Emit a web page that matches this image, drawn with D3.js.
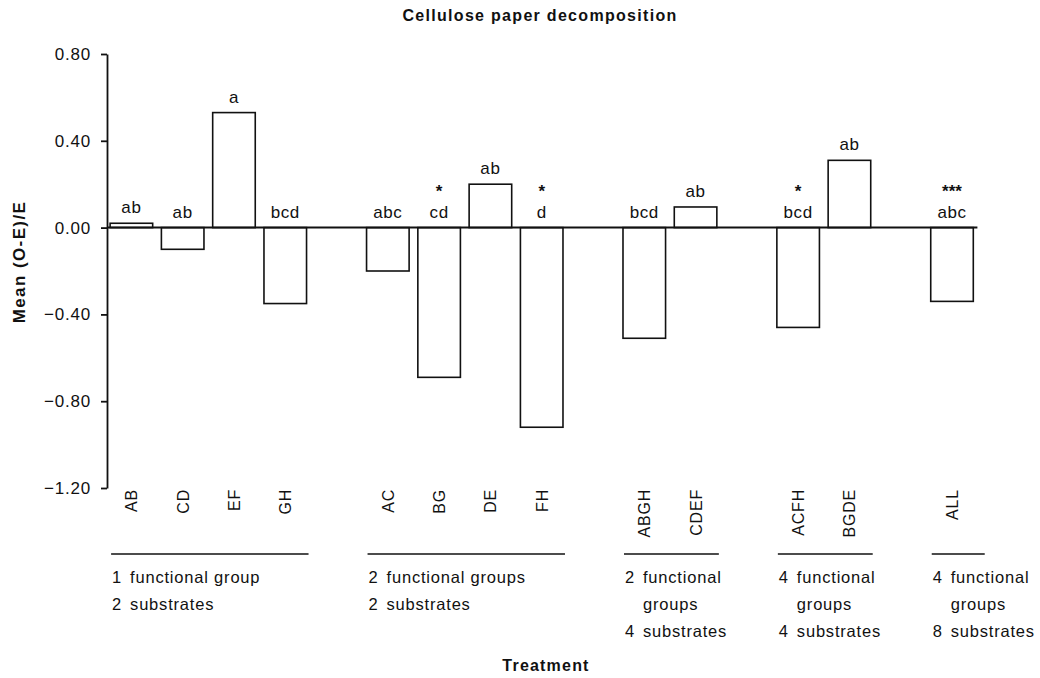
<!DOCTYPE html>
<html>
<head>
<meta charset="utf-8">
<script src="https://cdn.jsdelivr.net/npm/d3@7"></script>
<style>
  body { margin: 0; background: #fff; }
  text { font-family: "Liberation Sans", Arial, sans-serif; fill: #111; }
  .axis path, .axis line { stroke: #111; stroke-width: 1.8; }
  .axis text { font-size: 17px; letter-spacing: 0.8px; }
</style>
</head>
<body>
<div id="chart"></div>
<script>
// treatments and their mean (O-E)/E
var treatments = ["AB", "CD", "EF", "GH", "AC", "BG", "DE", "FH", "ABGH", "CDEF", "ACFH", "BGDE", "ALL"];
var meanValues = [0.02, -0.10, 0.53, -0.35, -0.20, -0.69, 0.20, -0.92, -0.51, 0.095, -0.46, 0.31, -0.34];
var letterGroups = ["ab", "ab", "a", "bcd", "abc", "cd", "ab", "d", "bcd", "ab", "bcd", "ab", "abc"];
var significance = ["", "", "", "", "", "*", "", "*", "", "", "*", "", "***"];

var groupTreatments = [
  ["AB", "CD", "EF", "GH"],
  ["AC", "BG", "DE", "FH"],
  ["ABGH", "CDEF"],
  ["ACFH", "BGDE"],
  ["ALL"]
];
var groupLines = [
  [["1", "functional group"], ["2", "substrates"]],
  [["2", "functional groups"], ["2", "substrates"]],
  [["2", "functional"], ["", "groups"], ["4", "substrates"]],
  [["4", "functional"], ["", "groups"], ["4", "substrates"]],
  [["4", "functional"], ["", "groups"], ["8", "substrates"]]
];
var yTicks = [0.80, 0.40, 0.00, -0.40, -0.80, -1.20];

var width = 1040, height = 678;

var svg = d3.select("#chart").append("svg")
    .attr("width", width)
    .attr("height", height);

// slots: treatments plus one empty slot between groups
var slots = [];
groupTreatments.forEach(function(g, i) {
  slots = slots.concat(g);
  if (i < groupTreatments.length - 1) slots.push("gap" + i);
});

var x = d3.scaleBand()
    .domain(slots)
    .range([106, 977.4])
    .paddingInner(0.17)
    .paddingOuter(0.08);

var y = d3.scaleLinear()
    .domain([-1.2, 0.8])
    .range([488, 54]);

var data = treatments.map(function(t, i) {
  return {name: t, value: meanValues[i], letters: letterGroups[i], stars: significance[i]};
});

// title
svg.append("text")
    .attr("x", 540)
    .attr("y", 21)
    .attr("text-anchor", "middle")
    .style("font-size", "16px")
    .style("font-weight", "bold")
    .style("letter-spacing", "1.3px")
    .text("Cellulose paper decomposition");

// y axis
var yAxis = d3.axisLeft(y)
    .tickValues(yTicks)
    .tickSize(6)
    .tickSizeOuter(0)
    .tickPadding(10)
    .tickFormat(d3.format(".2f"));

svg.append("g")
    .attr("class", "axis")
    .attr("transform", "translate(107,0)")
    .call(yAxis);

svg.append("text")
    .attr("transform", "translate(25," + 262 + ") rotate(-90)")
    .attr("text-anchor", "middle")
    .style("font-size", "17px")
    .style("font-weight", "bold")
    .style("letter-spacing", "1.4px")
    .text("Mean (O-E)/E");

// bars
svg.selectAll("rect.bar")
    .data(data)
    .enter().append("rect")
    .attr("class", "bar")
    .attr("x", function(d) { return x(d.name); })
    .attr("width", x.bandwidth())
    .attr("y", function(d) { return y(Math.max(0, d.value)); })
    .attr("height", function(d) { return Math.abs(y(d.value) - y(0)); })
    .attr("fill", "#fff")
    .attr("stroke", "#111")
    .attr("stroke-width", 1.6);

// zero line
svg.append("line")
    .attr("x1", 107)
    .attr("x2", x.range()[1])
    .attr("y1", y(0))
    .attr("y2", y(0))
    .attr("stroke", "#111")
    .attr("stroke-width", 2);

// letters above bars
svg.selectAll("text.letters")
    .data(data)
    .enter().append("text")
    .attr("class", "letters")
    .attr("x", function(d) { return x(d.name) + x.bandwidth() / 2; })
    .attr("y", function(d) { return y(Math.max(0, d.value)) - 10; })
    .attr("text-anchor", "middle")
    .style("font-size", "17px")
    .style("letter-spacing", "0.6px")
    .text(function(d) { return d.letters; });

svg.selectAll("text.stars")
    .data(data.filter(function(d) { return d.stars; }))
    .enter().append("text")
    .attr("class", "stars")
    .attr("x", function(d) { return x(d.name) + x.bandwidth() / 2; })
    .attr("y", function(d) { return y(Math.max(0, d.value)) - 31; })
    .attr("text-anchor", "middle")
    .style("font-size", "17px")
    .style("font-weight", "bold")
    .text(function(d) { return d.stars; });

// treatment names, rotated
svg.selectAll("text.cat")
    .data(data)
    .enter().append("text")
    .attr("class", "cat")
    .attr("transform", function(d) {
      return "translate(" + (x(d.name) + x.bandwidth() / 2 + 6) + ",489) rotate(-90)";
    })
    .attr("text-anchor", "end")
    .style("font-size", "16px")
    .style("letter-spacing", "0.8px")
    .text(function(d) { return d.name; });

// group lines and descriptions
var groups = svg.selectAll("g.grp")
    .data(groupTreatments)
    .enter().append("g")
    .attr("class", "grp");

groups.append("line")
    .attr("x1", function(g) { return x(g[0]) + 1; })
    .attr("x2", function(g) { return Math.max(x(g[g.length - 1]) + x.bandwidth() + 2, x(g[0]) + 54); })
    .attr("y1", 554)
    .attr("y2", 554)
    .attr("stroke", "#111")
    .attr("stroke-width", 1.4);

groups.each(function(g, i) {
  var gx = x(g[0]) + 2;
  var sel = d3.select(this);
  groupLines[i].forEach(function(line, k) {
    var by = 583 + k * 27;
    if (line[0]) {
      sel.append("text")
          .attr("x", gx)
          .attr("y", by)
          .style("font-size", "16.5px")
          .text(line[0]);
    }
    sel.append("text")
        .attr("x", gx + 18)
        .attr("y", by)
        .style("font-size", "16.5px")
        .style("letter-spacing", "0.8px")
        .text(line[1]);
  });
});

svg.append("text")
    .attr("x", 546)
    .attr("y", 671)
    .attr("text-anchor", "middle")
    .style("font-size", "16px")
    .style("font-weight", "bold")
    .style("letter-spacing", "1.2px")
    .text("Treatment");
</script>
</body>
</html>
